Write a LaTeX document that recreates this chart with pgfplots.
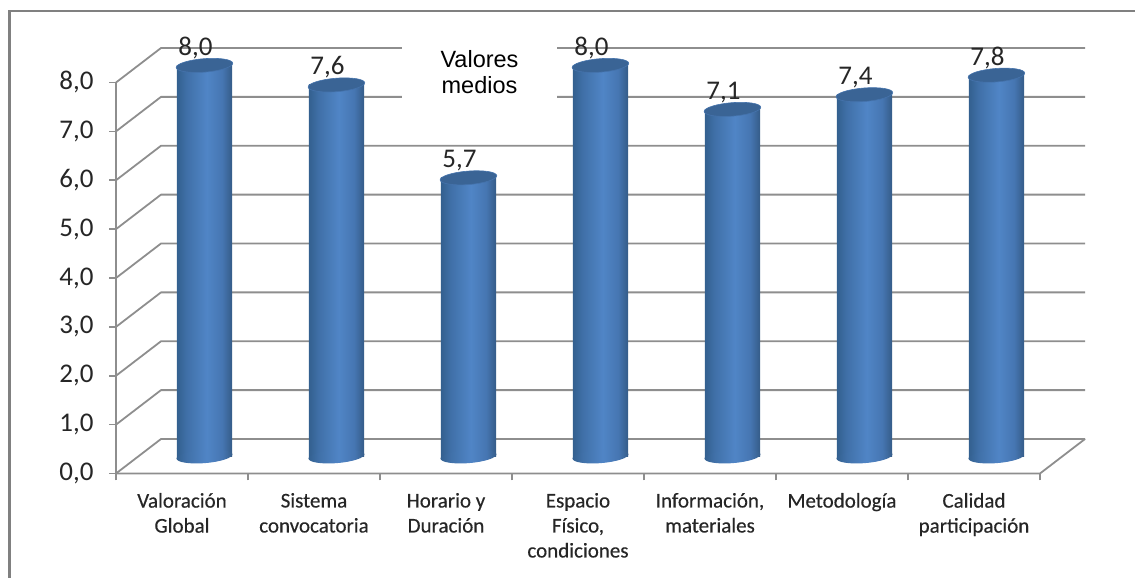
\documentclass[border=0pt]{standalone}
\usepackage{pgfplots}
\pgfplotsset{compat=1.18}
\usepackage{fontspec}
\setmainfont{Carlito}
\newfontfamily\arialf{Liberation Sans}
\newfontfamily\labf[FakeBold=0.35]{Carlito}
\definecolor{gridc}{HTML}{8E8E8E}
\definecolor{framec}{HTML}{808080}
\definecolor{capc}{HTML}{3A6495}
\definecolor{capr}{HTML}{4573AC}
\definecolor{txt}{HTML}{262626}
\definecolor{cA}{HTML}{33608F}
\definecolor{cB}{HTML}{4070A8}
\definecolor{cC}{HTML}{5085C6}
\definecolor{cD}{HTML}{4676B2}
\definecolor{cE}{HTML}{355C88}
\pgfdeclarehorizontalshading{cylb}{100bp}{
  color(0bp)=(cA);color(25bp)=(cA);color(34bp)=(cB);color(52bp)=(cC);color(66bp)=(cD);color(75bp)=(cE);color(100bp)=(cE)}
\pgfdeclareplotmark{cylcap}{%
  \pgfpathellipse{\pgfpointorigin}{\pgfqpoint{28.3pt}{2.2pt}}{\pgfqpoint{-0.5pt}{6.7pt}}%
  \pgfsetfillcolor{capc}\pgfsetstrokecolor{capr}\pgfsetlinewidth{0.6pt}\pgfusepathqfillstroke}
\pgfdeclareplotmark{cylbot}{%
  \pgfpathellipse{\pgfpointorigin}{\pgfqpoint{28.0pt}{2.2pt}}{\pgfqpoint{-0.5pt}{6.7pt}}%
  \pgfshadepath{cylb}{0}\pgfusepath{discard}}
\pgfplotsset{common/.style={
  scale only axis, width=969pt, height=439.875pt,
  xmin=0, xmax=7.341, clip=false,
  anchor=south west, at={(116pt,104.5pt)}},
  gl/.style={gridc,line width=1.8pt,line join=round,no markers,forget plot},
  body/.style={ybar,bar shift=0pt,bar width=55.2pt,draw=none,shade,shading=cylb,
    mark=cylcap,forget plot,
    nodes near coords,
    nodes near coords style={
      font=\fontsize{27}{30}\selectfont,text=txt,xshift=-9pt,yshift=3pt,
      /pgf/number format/.cd,fixed,fixed zerofill,precision=1,use comma,assume math mode=true}},
  base/.style={only marks,mark=cylbot,draw=none,forget plot}}
\begin{document}
\begin{tikzpicture}[x=1pt,y=1pt]
\path[use as bounding box] (0,0) rectangle (1135,578);
\draw[framec,line width=2.4pt] (9.5,0) -- (9.5,567) -- (1135,567);
\begin{axis}[common, ymin=0, ymax=9,
  axis line style={draw=none},
  tick align=outside, tick pos=left,
  major tick length=7pt,
  tick style={gridc,line width=1.6pt},
  xtick={0,1,2,3,4,5,6,7},
  x tick label as interval,
  xticklabels={{Valoraci\'on\\Global},{Sistema\\convocatoria},{Horario y\\Duraci\'on},{Espacio\\F\'isico,\\condiciones},{Informaci\'on,\\materiales},{Metodolog\'ia},{Calidad\\participaci\'on}},
  xticklabel style={align=center,font=\labf\fontsize{21}{25}\selectfont,text=txt,yshift=-9pt,anchor=north},
  ytick={0,1,2,3,4,5,6,7,8},
  yticklabel style={font=\fontsize{27}{30}\selectfont,text=txt,xshift=-12pt,
    /pgf/number format/.cd,fixed,fixed zerofill,precision=1,use comma,assume math mode=true},
]
\addplot[gl] coordinates {(0,0) (0.341,0.706) (7.341,0.706)};
\addplot[gl] coordinates {(0,1) (0.341,1.706) (7.341,1.706)};
\addplot[gl] coordinates {(0,2) (0.341,2.706) (7.341,2.706)};
\addplot[gl] coordinates {(0,3) (0.341,3.706) (7.341,3.706)};
\addplot[gl] coordinates {(0,4) (0.341,4.706) (7.341,4.706)};
\addplot[gl] coordinates {(0,5) (0.341,5.706) (7.341,5.706)};
\addplot[gl] coordinates {(0,6) (0.341,6.706) (7.341,6.706)};
\addplot[gl] coordinates {(0,7) (0.341,7.706) (7.341,7.706)};
\addplot[gl] coordinates {(0,8) (0.341,8.706) (7.341,8.706)};
\addplot[gl] coordinates {(0,8) (0,0) (7,0) (7.341,0.706)};
\end{axis}
\node[fill=white,minimum width=155pt,minimum height=85pt,inner sep=0pt] at (479.5,505) {};
\node[font=\arialf\fontsize{23.5}{26}\selectfont,align=center,text=black,anchor=base] at (479.5,510) {Valores};
\node[font=\arialf\fontsize{23.5}{26}\selectfont,align=center,text=black,anchor=base] at (479.5,484) {medios};
\begin{axis}[common, ymin=-0.35, ymax=8.65, hide axis]
\addplot[base] coordinates {(0.67,0) (1.67,0) (2.67,0) (3.67,0) (4.67,0) (5.67,0) (6.67,0)};
\addplot[body] coordinates {(0.67,8.0)};
\addplot[body] coordinates {(1.67,7.6)};
\addplot[body] coordinates {(2.67,5.7)};
\addplot[body] coordinates {(3.67,8.0)};
\addplot[body] coordinates {(4.67,7.1)};
\addplot[body] coordinates {(5.67,7.4)};
\addplot[body] coordinates {(6.67,7.8)};
\end{axis}
\end{tikzpicture}
\end{document}
